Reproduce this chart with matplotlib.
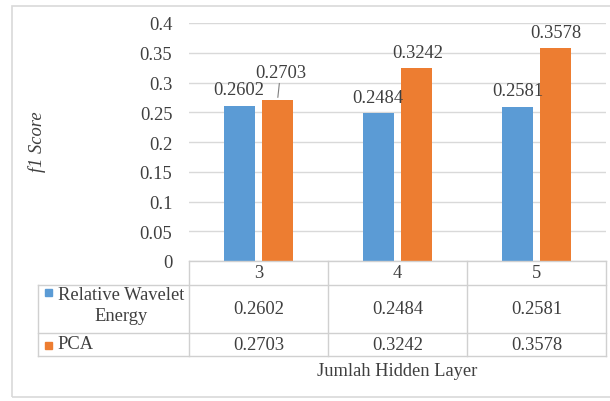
import matplotlib.pyplot as plt
import numpy as np
from matplotlib.patches import Rectangle
from matplotlib.lines import Line2D

plt.rcParams['font.family'] = ['Liberation Serif', 'DejaVu Serif']

# data
hidden_layers = ['3', '4', '5']
series_names = ['Relative Wavelet\nEnergy', 'PCA']
rwe = [0.2602, 0.2484, 0.2581]
pca = [0.2703, 0.3242, 0.3578]
yticks = [0, 0.05, 0.1, 0.15, 0.2, 0.25, 0.3, 0.35, 0.4]

blue = '#5B9BD5'
orange = '#ED7D31'
txt = '#3F3F3F'
grid = '#D9D9D9'
fs = 13.3

W, H = 610, 402
fig = plt.figure(figsize=(W / 100, H / 100), dpi=100)


def px(x, y):
    # pixel (from top-left) -> figure fraction
    return x / W, 1 - y / H


# plot area
left, right, top, bottom = 189, 606, 24, 262
ax = fig.add_axes([left / W, 1 - bottom / H, (right - left) / W, (bottom - top) / H])

x = np.arange(len(hidden_layers))
bw = 0.217
off = 0.137
ax.bar(x - off, rwe, bw, color=blue, zorder=3)
ax.bar(x + off, pca, bw, color=orange, zorder=3)

ax.set_xlim(-0.5, 2.5)
ax.set_ylim(0, 0.4)
ax.set_yticks(yticks)
ax.set_yticklabels(['0', '0.05', '0.1', '0.15', '0.2', '0.25', '0.3', '0.35', '0.4'])
ax.tick_params(axis='y', length=0, pad=12, labelsize=fs, labelcolor=txt)
ax.set_xticks([])
ax.grid(axis='y', color=grid, linewidth=1, zorder=0)
for s in ax.spines.values():
    s.set_visible(False)

# data labels (pixel offsets from bar top)
rwe_off = [(-1, 17), (-1, 16), (0, 17)]
pca_off = [(3, 28), (1, 16), (0, 16)]
for i in range(3):
    ax.annotate(f'{rwe[i]:.4f}', (x[i] - off, rwe[i]), xytext=rwe_off[i],
                textcoords='offset pixels', ha='center', va='center',
                fontsize=fs, color=txt)
    ap = dict(arrowstyle='-', color='#7F7F7F', lw=0.8, shrinkA=0, shrinkB=2) if pca_off[i][1] > 20 else None
    ax.annotate(f'{pca[i]:.4f}', (x[i] + off, pca[i]), xytext=pca_off[i],
                textcoords='offset pixels', ha='center', va='center',
                fontsize=fs, color=txt, arrowprops=ap)

ax.set_ylabel('f1 Score', style='italic', fontsize=fs, color=txt, labelpad=0)
ax.yaxis.set_label_coords((46 - left) / (right - left), (bottom - 142) / (bottom - top))

# data table
tc = '#D0D0D0'


def hline(y, x0, x1):
    fig.add_artist(Line2D([x0 / W, x1 / W], [1 - y / H, 1 - y / H], color=tc, lw=1))


def vline(xp, y0, y1):
    fig.add_artist(Line2D([xp / W, xp / W], [1 - y0 / H, 1 - y1 / H], color=tc, lw=1))


r0, r1, r2, r3 = 262, 286, 334, 357
hline(r0, left, right)
for r in (r1, r2, r3):
    hline(r, 38, right)
vline(38, r1, r3)
for xp in (left, 328, 467, right):
    vline(xp, r0, r3)

# table text placed at category positions
cat_px = [left + (right - left) * (i + 0.5) / 3 for i in range(3)]
for i in range(3):
    fx = cat_px[i] / W
    fig.text(fx, px(0, (r0 + r1) / 2)[1], hidden_layers[i], ha='center', va='center',
             fontsize=fs, color=txt)
    fig.text(fx, px(0, (r1 + r2) / 2)[1], f'{rwe[i]:.4f}', ha='center', va='center',
             fontsize=fs, color=txt)
    fig.text(fx, px(0, (r2 + r3) / 2)[1], f'{pca[i]:.4f}', ha='center', va='center',
             fontsize=fs, color=txt)

# legend keys in table
fig.text(121 / W, px(0, 306)[1], series_names[0], ha='center', va='center',
         multialignment='center', fontsize=fs, color=txt, linespacing=1.3)
fig.text(57 / W, px(0, 345)[1], series_names[1], ha='left', va='center',
         fontsize=fs, color=txt)
for c, yc in ((blue, 293), (orange, 346)):
    fig.add_artist(Rectangle(px(45, yc + 3.5), 7 / W, 7 / H, color=c, transform=fig.transFigure))

fig.text(397 / W, px(0, 372)[1], 'Jumlah Hidden Layer', ha='center', va='center',
         fontsize=fs, color=txt)

# chart border
fig.add_artist(Rectangle(px(12, 398), (620 - 12) / W, (398 - 7) / H, fill=False,
                         edgecolor='#D9D9D9', lw=1.2, transform=fig.transFigure))

fig.savefig('out.png', dpi=100, facecolor='white')
